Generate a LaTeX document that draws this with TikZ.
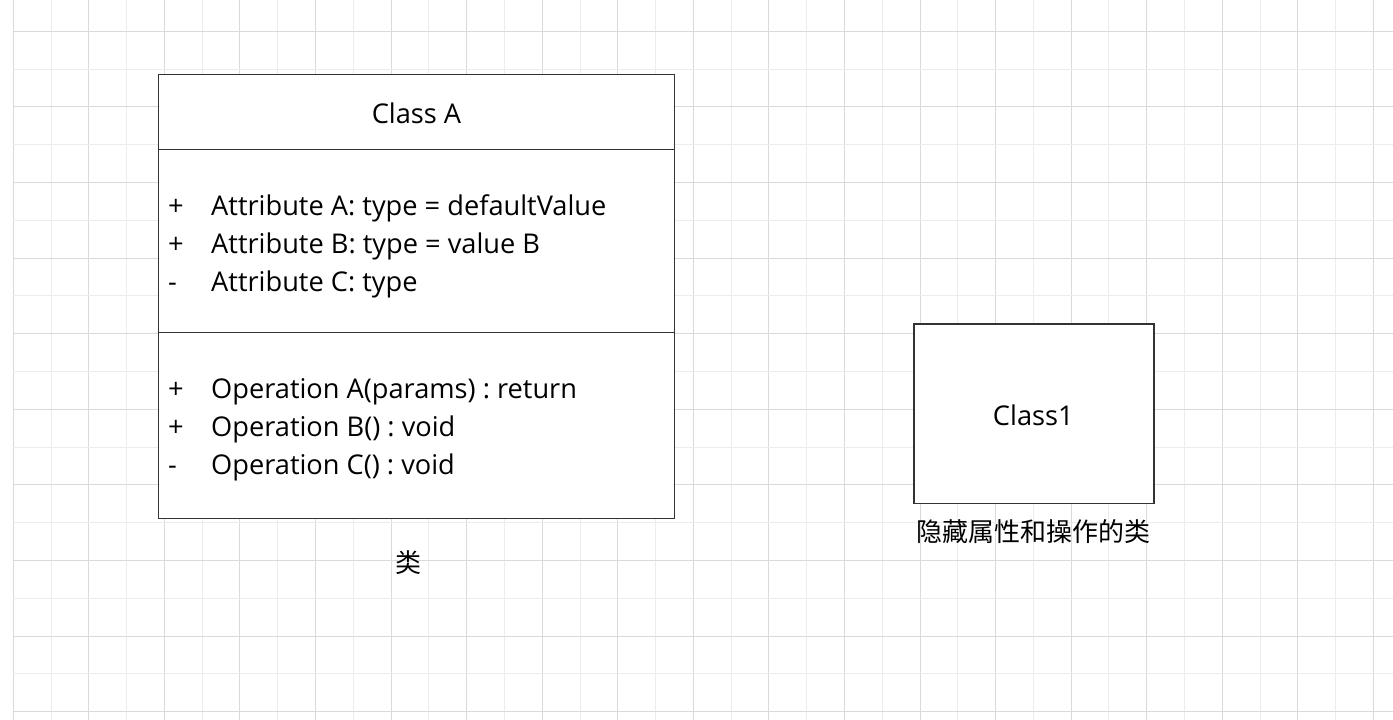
\documentclass[tikz,border=0pt]{standalone}
\usepackage{fontspec}
\setmainfont{Open Sans}
\newfontfamily\cjk{Noto Sans CJK SC}
\definecolor{gridmajor}{HTML}{DADADA}
\definecolor{gridminor}{HTML}{ECECEC}
\definecolor{boxline}{HTML}{333333}
\frenchspacing
\begin{document}
\begin{tikzpicture}[x=1pt,y=-1pt,
  txt/.style={inner sep=0pt, font=\fontsize{27.2}{32}\selectfont\frenchspacing, text=black, anchor=base},
  ctxt/.style={inner sep=0pt, font=\cjk\fontsize{26}{30}\selectfont, text=black},
  ltxt/.style={txt, anchor=base west},
  umlbox/.style={draw=boxline, line width=1.2pt, fill=white}]
\useasboundingbox (0,0) rectangle (1393,720);
\fill[white] (0,0) rectangle (1393,720);
% grid
\foreach \k in {0,...,36}{
  \pgfmathsetmacro\xx{13.3+37.78*\k}
  \pgfmathtruncatemacro\ev{mod(\k,2)}
  \ifnum\ev=0 \draw[gridmajor,line width=1pt] (\xx,0) -- (\xx,720);
  \else \draw[gridminor,line width=1pt] (\xx,0) -- (\xx,720); \fi
}
\foreach \k in {0,...,18}{
  \pgfmathsetmacro\yy{31.3+37.8*\k}
  \pgfmathtruncatemacro\ev{mod(\k,2)}
  \ifnum\ev=0 \draw[gridmajor,line width=1pt] (13.3,\yy) -- (1393,\yy);
  \else \draw[gridminor,line width=1pt] (13.3,\yy) -- (1393,\yy); \fi
}
% Class A
\draw[umlbox] (158.3,74.3) rectangle (674.3,518.3);
\coordinate (d1l) at (158.3,149.3);
\coordinate (d1r) at (674.3,149.3);
\coordinate (d2l) at (158.3,332.5);
\coordinate (d2r) at (674.3,332.5);
\draw[boxline, line width=1.2pt] (d1l) -- (d1r);
\draw[boxline, line width=1.2pt] (d2l) -- (d2r);
\node[txt] (title) at (416.5,123.5) {Class A};
\node[ltxt] (s1) at (168,215.7) {+};
\node[ltxt] (s2) at (168,253.7) {+};
\node[ltxt] (s3) at (168,291.7) {-};
\node[ltxt] (a1) at (211,215.7) {Attribute A: type = defaultValue};
\node[ltxt] (a2) at (211,253.7) {Attribute B: type = value B};
\node[ltxt] (a3) at (211,291.7) {Attribute C: type};
\node[ltxt] (s4) at (168,398.7) {+};
\node[ltxt] (s5) at (168,436.7) {+};
\node[ltxt] (s6) at (168,474.7) {-};
\node[ltxt] (o1) at (211,398.7) {Operation A(params) : return};
\node[ltxt] (o2) at (211,436.7) {Operation B() : void};
\node[ltxt] (o3) at (211,474.7) {Operation C() : void};
\node[ctxt] (lbl1) at (408,563) {类};
% Class1
\node[umlbox, minimum width=240pt, minimum height=179.7pt, inner sep=0pt, anchor=north west] (c1) at (913.3,323.3) {};
\node[txt] (c1t) at (1033.3,425) {Class1};
\node[ctxt] (lbl2) at (1033,531.5) {隐藏属性和操作的类};
\end{tikzpicture}
\end{document}
